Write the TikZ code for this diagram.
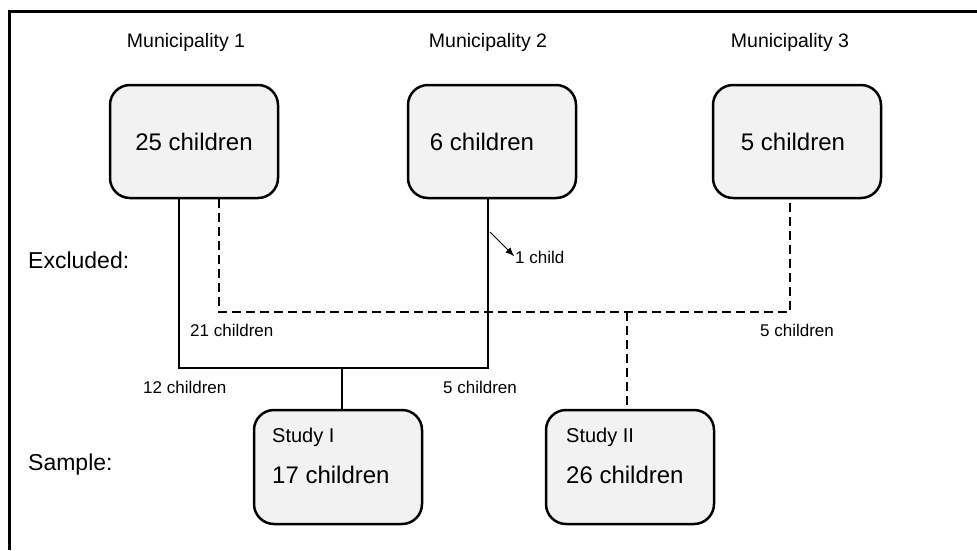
\documentclass[tikz,border=0pt]{standalone}
\usepackage{fontspec}
\setmainfont{Liberation Sans}
\usetikzlibrary{shapes, arrows.meta}
\definecolor{boxgray}{RGB}{242,242,242}
\tikzstyle{mbox} = [rectangle, draw, rounded corners=20pt, line width=2.5pt, fill=boxgray, minimum width=168pt, minimum height=113pt, text centered, font=\fontsize{24pt}{28pt}\selectfont]
\tikzstyle{sbox} = [mbox, minimum height=114pt]
\tikzstyle{mlabel} = [inner sep=0pt, font=\fontsize{19.5pt}{23pt}\selectfont]
\tikzstyle{rlabel} = [anchor=west, inner sep=0pt, font=\fontsize{23pt}{27pt}\selectfont]
\tikzstyle{nlabel} = [anchor=west, inner sep=0pt, font=\fontsize{17pt}{20pt}\selectfont]
\tikzstyle{stitle} = [anchor=west, inner sep=0pt, font=\fontsize{20pt}{24pt}\selectfont]
\tikzstyle{scount} = [anchor=west, inner sep=0pt, font=\fontsize{24pt}{28pt}\selectfont]
\tikzstyle{line} = [draw, line width=2.5pt]
\tikzstyle{dline} = [draw, line width=2pt, dash pattern=on 9pt off 5pt]
\tikzstyle{aline} = [draw, line width=1pt, -{Latex[length=9pt, width=7pt]}, shorten >=1pt]

\begin{document}
\begin{tikzpicture}[x=1pt, y=-1pt]
    \useasboundingbox (0,0) rectangle (977,550);
    \draw[line width=3pt] (9.5,550) -- (9.5,11.5) -- (977,11.5);

    \node[mlabel](mun1) at (186,42){Municipality 1};
    \node[mlabel](mun2) at (488,42){Municipality 2};
    \node[mlabel](mun3) at (790,42){Municipality 3};

    \node[mbox](m1) at (194,141.5){25 children};
    \node[mbox](m2) at (492,141.5){\hspace*{-20pt}6 children};
    \node[mbox](m3) at (797,141.5){\hspace*{-8pt}5 children};

    \node[sbox](s1) at (338,467){};
    \node[sbox](s2) at (630,467){};
    \node[stitle](s1title) at (272,437){Study I};
    \node[scount](s1count) at (272,475){17 children};
    \node[stitle](s2title) at (566,437){Study II};
    \node[scount](s2count) at (566,475){26 children};

    \node[rlabel](excluded) at (28,260){Excluded:};
    \node[rlabel](sample) at (28,465){Sample:};

    \node[nlabel](onechild) at (515,257){1 child};
    \node[nlabel](excl1) at (190,330){21 children};
    \node[nlabel](excl3) at (760,330){5 children};
    \node[nlabel](incl1) at (143,387){12 children};
    \node[nlabel](incl2) at (443,387){5 children};

    \coordinate (incl) at (342,368);
    \coordinate (excl) at (627,312);
    \coordinate (achild) at (490,232);

    \path[line] ([xshift=-15pt]m1.south) |- (incl) -| ([xshift=-4pt]m2.south);
    \path[line] (incl) -- (incl |- s1.north);
    \path[dline] ([xshift=25pt]m1.south) |- (excl) -| ([xshift=-7pt]m3.south);
    \path[dline] (excl) -- (excl |- s2.north);
    \path[aline] (achild) -- (onechild.west);
\end{tikzpicture}
\end{document}
